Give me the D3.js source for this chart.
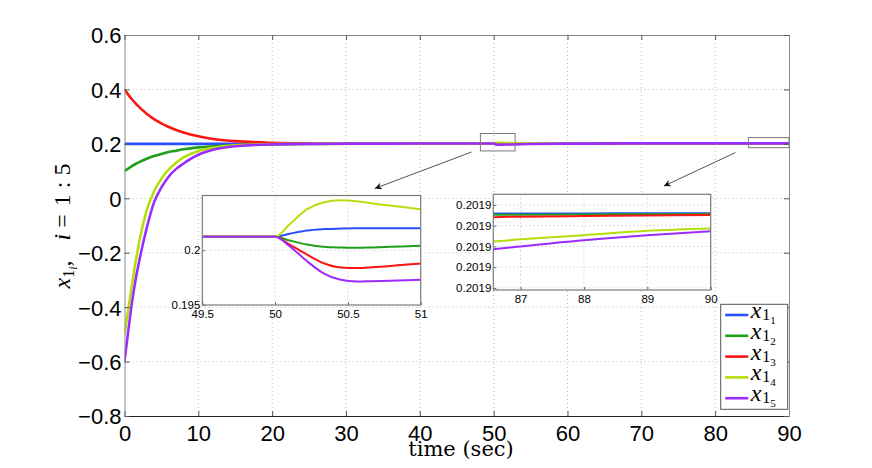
<!DOCTYPE html>
<html>
<head>
<meta charset="utf-8">
<title>x1i consensus</title>
<script src="https://d3js.org/d3.v7.min.js"></script>
<style>
  body { margin: 0; background: #fff; }
  .tick text { font-family: "Liberation Sans", Arial, sans-serif; fill: #000; }
  .grid line { stroke: #bdbdbd; stroke-dasharray: 1,3; }
</style>
</head>
<body>
<div id="chart"></div>
<script>
// time samples (sec) and the five trajectories
const time = [0, 0.5, 1, 1.5, 2, 3, 4, 5, 6, 7, 8, 10, 12, 15, 20, 25, 30, 40,
  49.5, 50, 50.1, 50.22, 50.33, 50.45, 50.56, 50.67, 50.79, 51,
  52, 55, 60, 70, 80, 86.57, 87, 88, 89, 90];

const x11 = [0.2, 0.2, 0.2, 0.2, 0.2, 0.2, 0.2, 0.2, 0.2, 0.2, 0.2, 0.2, 0.2, 0.2,
  0.2001, 0.2002, 0.2004, 0.2008,
  0.20123, 0.20123, 0.20151, 0.20181, 0.20193, 0.20198, 0.2020, 0.2020, 0.2020, 0.2020,
  0.2020, 0.20198, 0.20195, 0.20193, 0.20192, 0.2019158, 0.2019159, 0.2019159, 0.2019160, 0.2019160];

const x12 = [0.1, 0.109, 0.118, 0.126, 0.133, 0.145, 0.155, 0.163, 0.17, 0.175, 0.18, 0.187, 0.191, 0.195,
  0.198, 0.1995, 0.2002, 0.2008,
  0.20123, 0.20123, 0.20089, 0.20052, 0.20031, 0.20024, 0.20022, 0.20026, 0.20031, 0.2004,
  0.2006, 0.2012, 0.2016, 0.20187, 0.20191, 0.2019152, 0.2019153, 0.2019154, 0.2019155, 0.2019156];

const x13 = [0.4, 0.381, 0.364, 0.349, 0.335, 0.311, 0.291, 0.275, 0.262, 0.251, 0.242, 0.228, 0.218, 0.21,
  0.204, 0.202, 0.2012, 0.2011,
  0.20123, 0.20123, 0.20052, 0.1996, 0.19884, 0.19843, 0.19838, 0.19845, 0.19856, 0.1988,
  0.1995, 0.2006, 0.2014, 0.20183, 0.20189, 0.2019141, 0.2019143, 0.2019146, 0.2019149, 0.2019151];

const x14 = [-0.5, -0.41, -0.32, -0.235, -0.16, -0.045, 0.025, 0.072, 0.106, 0.131, 0.15, 0.174, 0.186, 0.195,
  0.199, 0.2005, 0.2009, 0.2011,
  0.20123, 0.20123, 0.20237, 0.20375, 0.20436, 0.20456, 0.20447, 0.20427, 0.20408, 0.20375,
  0.2032, 0.2024, 0.2021, 0.20195, 0.20191, 0.2019025, 0.2019034, 0.2019054, 0.2019075, 0.2019086];

const x15 = [-0.6, -0.49, -0.385, -0.3, -0.23, -0.11, -0.015, 0.04, 0.08, 0.108, 0.128, 0.16, 0.178, 0.191,
  0.198, 0.2, 0.2008, 0.2011,
  0.20123, 0.20123, 0.20037, 0.19899, 0.19792, 0.1973, 0.19715, 0.19718, 0.19721, 0.1973,
  0.1979, 0.1995, 0.201, 0.20178, 0.20186, 0.2018986, 0.2019, 0.201903, 0.2019054, 0.2019073];

const seriesIndex = ["1", "2", "3", "4", "5"];
const seriesColors = ["#2b4fff", "#1f9e1a", "#ff1414", "#b5de0b", "#9b2cff"];

const xTicks = [0, 10, 20, 30, 40, 50, 60, 70, 80, 90];
const yTicks = [-0.8, -0.6, -0.4, -0.2, 0, 0.2, 0.4, 0.6];

const zoom1X = [49.5, 50, 50.5, 51];
const zoom1Y = [0.195, 0.2];
const zoom2X = [87, 88, 89, 90];
const zoom2Y = [0.20188, 0.20189, 0.20190, 0.20191, 0.20192];

// ---------------------------------------------------------------
const W = 872, H = 468;
const plot = { left: 124.5, right: 789, top: 35, bottom: 416 };
const mathFont = "'Liberation Serif', 'Times New Roman', serif";

const svg = d3.select("#chart").append("svg")
  .attr("width", W).attr("height", H);

const x = d3.scaleLinear().domain([0, 90]).range([plot.left, plot.right]);
const y = d3.scaleLinear().domain([-0.8, 0.6]).range([plot.bottom, plot.top]);

const series = [x11, x12, x13, x14, x15].map((vals, i) => ({
  id: seriesIndex[i],
  color: seriesColors[i],
  points: time.map((t, k) => [t, vals[k]])
}));

// grid
const grid = svg.append("g").attr("class", "grid");
grid.selectAll(".gx").data(xTicks.slice(1, -1)).join("line")
  .attr("x1", d => x(d)).attr("x2", d => x(d))
  .attr("y1", plot.top).attr("y2", plot.bottom);
grid.selectAll(".gy").data(yTicks.slice(1, -1)).join("line")
  .attr("class", "gy")
  .attr("x1", plot.left).attr("x2", plot.right)
  .attr("y1", d => y(d)).attr("y2", d => y(d));

// clip for main curves
svg.append("clipPath").attr("id", "clipMain").append("rect")
  .attr("x", plot.left).attr("y", plot.top)
  .attr("width", plot.right - plot.left).attr("height", plot.bottom - plot.top);

const line = d3.line().curve(d3.curveMonotoneX)
  .x(d => x(d[0])).y(d => y(d[1]));

svg.append("g").attr("clip-path", "url(#clipMain)")
  .selectAll("path").data(series).join("path")
  .attr("d", d => line(d.points))
  .attr("fill", "none")
  .attr("stroke", d => d.color)
  .attr("stroke-width", 2.6);

// axes
const fontTick = 22;
const xAxis = svg.append("g")
  .attr("transform", `translate(0,${plot.bottom})`)
  .call(d3.axisBottom(x).tickValues(xTicks).tickFormat(d3.format("~g"))
    .tickSizeInner(-5).tickSizeOuter(0).tickPadding(9));
xAxis.select(".domain").attr("stroke", "#222");
xAxis.selectAll(".tick line").attr("stroke", "#555");
xAxis.selectAll(".tick text").attr("font-size", fontTick).attr("dy", "0.71em");

const yAxis = svg.append("g")
  .attr("transform", `translate(${plot.left},0)`)
  .call(d3.axisLeft(y).tickValues(yTicks).tickFormat(d3.format("~g"))
    .tickSizeInner(-5).tickSizeOuter(0).tickPadding(3));
yAxis.select(".domain").attr("stroke", "#888");
yAxis.selectAll(".tick line").attr("stroke", "#555");
yAxis.selectAll(".tick text").attr("font-size", fontTick).attr("dy", "0.36em");

// top / right frame with mirrored ticks
svg.append("g").attr("transform", `translate(0,${plot.top})`)
  .call(d3.axisTop(x).tickValues(xTicks).tickSizeInner(-5).tickSizeOuter(0).tickFormat(""))
  .call(g => g.select(".domain").attr("stroke", "#888"))
  .call(g => g.selectAll(".tick line").attr("stroke", "#555"));
svg.append("g").attr("transform", `translate(${plot.right},0)`)
  .call(d3.axisRight(y).tickValues(yTicks).tickSizeInner(-5).tickSizeOuter(0).tickFormat(""))
  .call(g => g.select(".domain").attr("stroke", "#888"))
  .call(g => g.selectAll(".tick line").attr("stroke", "#555"));

// axis titles
svg.append("text")
  .attr("x", 461).attr("y", 456)
  .attr("text-anchor", "middle")
  .attr("font-family", "'DejaVu Serif', serif")
  .attr("font-size", 21)
  .text("time (sec)");

const yl = svg.append("text")
  .attr("transform", "translate(70,226) rotate(-90)")
  .attr("text-anchor", "middle")
  .attr("font-family", mathFont)
  .attr("font-size", 24);
yl.append("tspan").attr("font-style", "italic").text("x");
yl.append("tspan").attr("font-size", 16).attr("dy", 4).text("1");
yl.append("tspan").attr("font-size", 12).attr("font-style", "italic").attr("dy", 3).text("i");
yl.append("tspan").attr("dy", -7).text(",");
yl.append("tspan").attr("dx", 20).attr("font-style", "italic").text("i");
yl.append("tspan").attr("dx", 6).text("=");
yl.append("tspan").attr("dx", 8).text("1 : 5");

// zoom-region markers and arrows (in data units of the main axes)
const marks = [
  { t0: 48.2, t1: 52.9, v0: 0.174, v1: 0.238 },
  { t0: 84.5, t1: 90, v0: 0.186, v1: 0.223 }
];
svg.append("g").selectAll("rect").data(marks).join("rect")
  .attr("x", d => x(d.t0)).attr("y", d => y(d.v1))
  .attr("width", d => x(d.t1) - x(d.t0)).attr("height", d => y(d.v0) - y(d.v1))
  .attr("fill", "none").attr("stroke", "#7a7a7a").attr("stroke-width", 1);

const arrows = [
  { t0: 47.0, v0: 0.170, t1: 33.9, v1: 0.036 },
  { t0: 82.75, v0: 0.168, t1: 73.05, v1: 0.045 }
];
svg.append("defs").append("marker")
  .attr("id", "head").attr("viewBox", "0 0 10 10")
  .attr("refX", 10).attr("refY", 5)
  .attr("markerWidth", 11).attr("markerHeight", 7)
  .attr("markerUnits", "userSpaceOnUse")
  .attr("orient", "auto")
  .append("path").attr("d", "M0,0L10,5L0,10L3,5Z").attr("fill", "#111");
svg.append("g").selectAll("line").data(arrows).join("line")
  .attr("x1", d => x(d.t0)).attr("y1", d => y(d.v0))
  .attr("x2", d => x(d.t1)).attr("y2", d => y(d.v1))
  .attr("stroke", "#555").attr("stroke-width", 1)
  .attr("marker-end", "url(#head)");

// insets
function drawInset(id, box, xDom, yDom, xt, yt, fx, fy) {
  const g = svg.append("g");
  const ix = d3.scaleLinear().domain(xDom).range([box.left, box.right]);
  const iy = d3.scaleLinear().domain(yDom).range([box.bottom, box.top]);
  g.append("rect")
    .attr("x", box.left).attr("y", box.top)
    .attr("width", box.right - box.left).attr("height", box.bottom - box.top)
    .attr("fill", "#fff");
  const gg = g.append("g").attr("class", "grid");
  gg.selectAll(".vx").data(xt.filter(d => ix(d) > box.left + 1 && ix(d) < box.right - 1)).join("line")
    .attr("class", "vx")
    .attr("x1", d => ix(d)).attr("x2", d => ix(d)).attr("y1", box.top).attr("y2", box.bottom);
  gg.selectAll(".hy").data(yt.filter(d => iy(d) < box.bottom - 1 && iy(d) > box.top + 1)).join("line")
    .attr("class", "hy")
    .attr("x1", box.left).attr("x2", box.right).attr("y1", d => iy(d)).attr("y2", d => iy(d));

  g.append("clipPath").attr("id", id).append("rect")
    .attr("x", box.left).attr("y", box.top)
    .attr("width", box.right - box.left).attr("height", box.bottom - box.top);
  const il = d3.line().curve(d3.curveMonotoneX).x(d => ix(d[0])).y(d => iy(d[1]));
  g.append("g").attr("clip-path", `url(#${id})`)
    .selectAll("path").data(series).join("path")
    .attr("d", d => il(d.points))
    .attr("fill", "none").attr("stroke", d => d.color).attr("stroke-width", 2);

  const ax = g.append("g").attr("transform", `translate(0,${box.bottom})`)
    .call(d3.axisBottom(ix).tickValues(xt).tickFormat(fx).tickSizeInner(-3).tickSizeOuter(0).tickPadding(5));
  const ay = g.append("g").attr("transform", `translate(${box.left},0)`)
    .call(d3.axisLeft(iy).tickValues(yt).tickFormat(fy).tickSizeInner(-3).tickSizeOuter(0).tickPadding(2));
  [ax, ay].forEach(a => {
    a.select(".domain").remove();
    a.selectAll(".tick line").attr("stroke", "#666");
    a.selectAll(".tick text").attr("font-size", 11.5);
  });
  g.append("rect")
    .attr("x", box.left).attr("y", box.top)
    .attr("width", box.right - box.left).attr("height", box.bottom - box.top)
    .attr("fill", "none").attr("stroke", "#7a7a7a").attr("stroke-width", 1.2);
}

drawInset("clipZ1", { left: 202.3, right: 420.7, top: 195.5, bottom: 305 },
  [49.5, 51], [0.195, 0.205], zoom1X, zoom1Y, d3.format("~g"), d3.format("~g"));
drawInset("clipZ2", { left: 493.3, right: 710.7, top: 194.3, bottom: 290 },
  [86.57, 90], [0.201879, 0.2019251], zoom2X, zoom2Y, d3.format("~g"), d3.format(".4f"));

// legend
const leg = { left: 720.7, top: 304.3, width: 67, height: 105, step: 20.8, first: 315 };
const lg = svg.append("g");
lg.append("rect")
  .attr("x", leg.left).attr("y", leg.top).attr("width", leg.width).attr("height", leg.height)
  .attr("fill", "#fff").attr("stroke", "#555").attr("stroke-width", 1);
const items = lg.selectAll("g.item").data(series).join("g")
  .attr("class", "item")
  .attr("transform", (d, i) => `translate(${leg.left},${leg.first + i * leg.step})`);
items.append("line")
  .attr("x1", 4.5).attr("x2", 27.5).attr("y1", 0).attr("y2", 0)
  .attr("stroke", d => d.color).attr("stroke-width", 2.6);
const lt = items.append("text")
  .attr("x", 30).attr("y", 3)
  .attr("font-family", mathFont)
  .attr("font-size", 24);
lt.append("tspan").attr("font-style", "italic").text("x");
lt.append("tspan").attr("font-size", 16).attr("dx", 1).attr("dy", 2).text("1");
lt.append("tspan").attr("font-size", 11).attr("dy", 4).text(d => d.id);
</script>
</body>
</html>
